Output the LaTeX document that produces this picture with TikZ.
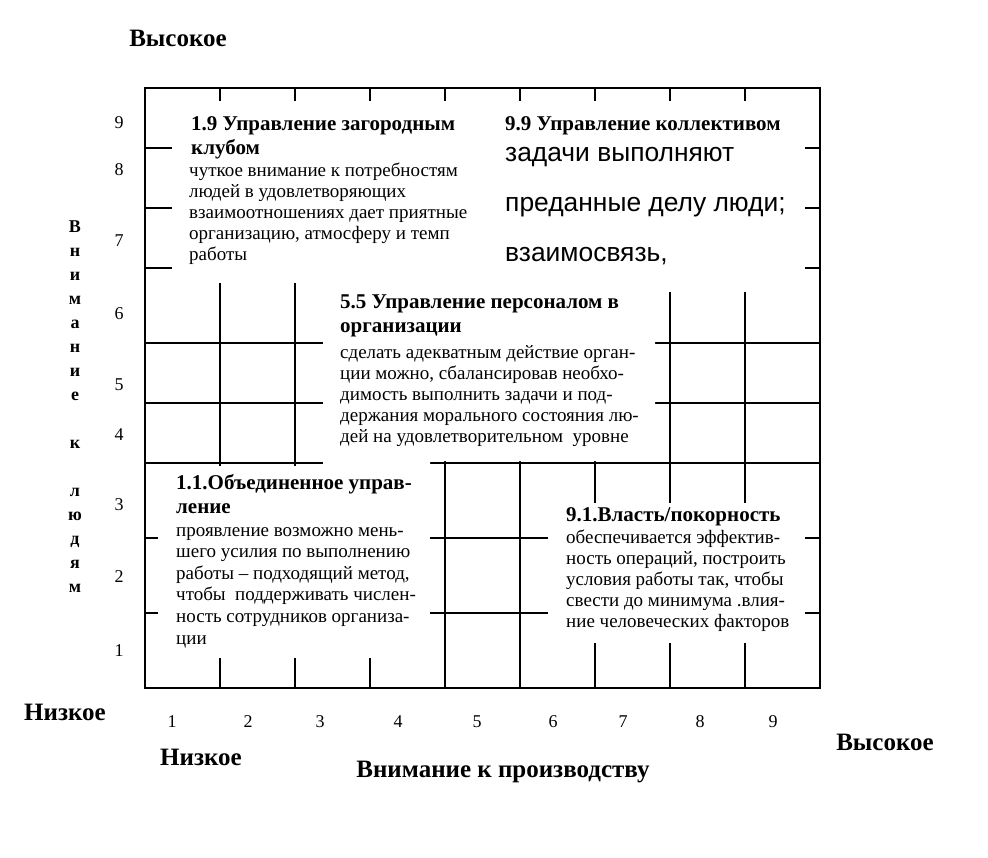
\documentclass[tikz,border=0pt]{standalone}
\usepackage{fontspec}
\setmainfont{Liberation Serif}
\newfontfamily\arialfont{Liberation Sans}
\usetikzlibrary{positioning}

\tikzset{
	gridline/.style={line width=2pt}
}
\tikzset{
	boxtitle/.style={font=\fontsize{21}{24}\selectfont\bfseries, anchor=north west, align=left, inner sep=0pt},
	boxtext/.style={font=\fontsize{19}{21}\selectfont, anchor=north west, align=left, inner sep=0pt}
}
\tikzset{
	axislabel/.style={font=\fontsize{25}{27}\selectfont\bfseries, inner sep=0pt},
	ticknum/.style={font=\fontsize{18}{20}\selectfont, inner sep=0pt}
}

\begin{document}
\begin{tikzpicture}[x=1pt, y=-1pt]

			\useasboundingbox (0,0) rectangle (988,858);

			% grid
			\begin{scope}
				\draw[gridline] (145,88) rectangle (820,688);

				\draw[gridline] (220,88) -- (220,688);
				\draw[gridline] (295,88) -- (295,688);
				\draw[gridline] (370,88) -- (370,688);
				\draw[gridline] (445,88) -- (445,688);
				\draw[gridline] (520,88) -- (520,688);
				\draw[gridline] (595,88) -- (595,688);
				\draw[gridline] (670,88) -- (670,688);
				\draw[gridline] (745,88) -- (745,688);

				\draw[gridline] (145,148) -- (820,148);
				\draw[gridline] (145,208) -- (820,208);
				\draw[gridline] (145,268) -- (820,268);
				\draw[gridline] (145,343) -- (820,343);
				\draw[gridline] (145,403) -- (820,403);
				\draw[gridline] (145,463) -- (820,463);
				\draw[gridline] (145,538) -- (820,538);
				\draw[gridline] (145,613) -- (820,613);
			\end{scope}

			% white text areas
			\begin{scope}
				\fill[white] (172,101) rectangle (490,283);
				\fill[white] (490,101) rectangle (805,292);
				\fill[white] (323,280) -- (655,280) -- (655,461) -- (430,461) -- (430,466) -- (323,466) -- cycle;
				\fill[white] (158,466) rectangle (430,658);
				\fill[white] (548,503) rectangle (805,643);
			\end{scope}

			% quadrant texts
			\node[boxtitle] (t19) at (191,116) {1.9 Управление загородным\\клубом};
			\node[boxtext] (b19) at (189,163) {чуткое внимание к потребностям\\людей в удовлетворяющих\\взаимоотношениях дает приятные\\организацию, атмосферу и темп\\работы};

			\node[boxtitle] (t99) at (505,116) {9.9 Управление коллективом};
			\node[boxtext, font=\arialfont\fontsize{26.4}{50}\selectfont] (b99) at (505,147) {задачи выполняют\\преданные делу люди;\\взаимосвязь,};

			\node[boxtitle] (t55) at (340,295) {5.5 Управление персоналом в\\организации};
			\node[boxtext] (b55) at (340,345) {сделать адекватным действие орган-\\ции можно, сбалансировав необхо-\\димость выполнить задачи и под-\\держания морального состояния лю-\\дей на удовлетворительном\ \ уровне};

			\node[boxtitle] (t11) at (176,474) {1.1.Объединенное управ-\\ление};
			\node[boxtext, font=\fontsize{19}{21.6}\selectfont] (b11) at (176,527) {проявление возможно мень-\\шего усилия по выполнению\\работы – подходящий метод,\\чтобы\ \ поддерживать числен-\\ность сотрудников организа-\\ции};

			\node[boxtitle] (t91) at (566,507) {9.1.Власть/покорность};
			\node[boxtext] (b91) at (566,530) {обеспечивается эффектив-\\ность операций, построить\\условия работы так, чтобы\\свести до минимума .влия-\\ние человеческих факторов};

			% row numbers
			\node[ticknum] (r9) at (119,123) {9};
			\node[ticknum] (r8) at (119,170) {8};
			\node[ticknum] (r7) at (119,241) {7};
			\node[ticknum] (r6) at (119,314) {6};
			\node[ticknum] (r5) at (119,385) {5};
			\node[ticknum] (r4) at (119,435) {4};
			\node[ticknum] (r3) at (119,505) {3};
			\node[ticknum] (r2) at (119,577) {2};
			\node[ticknum] (r1) at (119,651) {1};

			% column numbers
			\node[ticknum] (c1) at (172,722) {1};
			\node[ticknum] (c2) at (248,722) {2};
			\node[ticknum] (c3) at (320,722) {3};
			\node[ticknum] (c4) at (398,722) {4};
			\node[ticknum] (c5) at (477,722) {5};
			\node[ticknum] (c6) at (553,722) {6};
			\node[ticknum] (c7) at (623,722) {7};
			\node[ticknum] (c8) at (700,722) {8};
			\node[ticknum] (c9) at (773,722) {9};

			% axis labels
			\node[axislabel] (yhigh) at (178,38) {Высокое};
			\node[axislabel] (ylow) at (65,712) {Низкое};
			\node[axislabel] (xlow) at (201,757) {Низкое};
			\node[axislabel] (xhigh) at (885,742) {Высокое};
			\node[axislabel] (xname) at (503,772) {Внимание к производству};
			\node[font=\fontsize{18}{24}\selectfont\bfseries, align=center, anchor=north, inner sep=0pt] (yname) at (75,221)
				{В\\н\\и\\м\\а\\н\\и\\е\\\mbox{}\\к\\\mbox{}\\л\\ю\\д\\я\\м};

		\end{tikzpicture}
\end{document}
